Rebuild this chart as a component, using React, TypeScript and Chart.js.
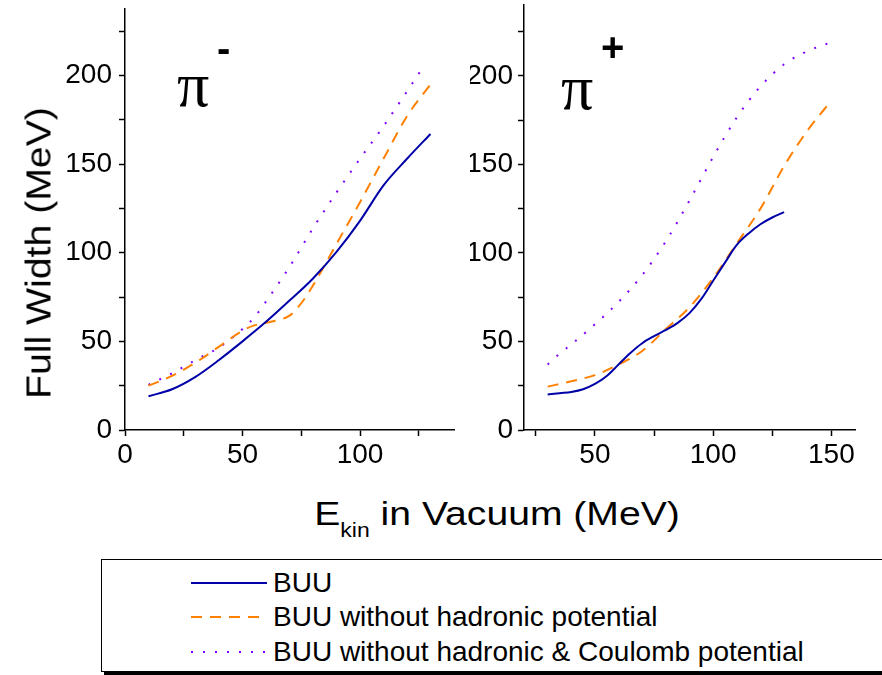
import React, { useEffect, useRef } from "react";
import { Chart, registerables } from "chart.js";
Chart.register(...registerables);

// ---------- data: pi minus panel ----------
const xMinusBUU = [10, 20, 30, 40, 50, 60, 70, 80, 90, 100, 110, 120, 130];
const yMinusBUU = [19, 23, 30, 39.5, 50, 61, 73, 85.5, 100.5, 118, 138, 153, 167];
const xMinusNoHad = [10, 20, 30, 40, 50, 55, 60, 65, 70, 75, 80, 85, 90, 100, 110, 120, 130];
const yMinusNoHad = [25, 30.5, 38, 47, 56, 59, 60.5, 62, 64.5, 71.5, 81.5, 93, 105, 128.5, 153, 177, 195];
const xMinusNoHadCoul = [10, 20, 30, 40, 45, 50, 55, 60, 70, 80, 90, 100, 110, 120, 127];
const yMinusNoHadCoul = [25.5, 32, 39.5, 46.5, 51.4, 57, 63.5, 72.5, 92, 113.8, 134, 153, 171.4, 191, 205];

// ---------- data: pi plus panel ----------
const xPlusBUU = [30, 35, 40, 45, 50, 55, 60, 65, 70, 75, 80, 85, 90, 95, 100, 105, 110, 115, 120, 125, 130];
const yPlusBUU = [20, 20.8, 21.5, 23, 26, 30.5, 37, 43.5, 49, 53, 56.5, 60.5, 66, 74, 84.3, 94.5, 104.5, 111, 116.2, 120, 123];
const xPlusNoHad = [30, 40, 50, 60, 70, 80, 90, 100, 110, 120, 130, 140, 150];
const yPlusNoHad = [24.5, 27.5, 31, 37, 44.6, 57, 69.3, 85.8, 105.3, 125, 149, 169.3, 186];
const xPlusNoHadCoul = [30, 35, 40, 50, 60, 70, 80, 90, 100, 110, 120, 130, 140, 150];
const yPlusNoHadCoul = [37, 43, 48.3, 59.7, 72.3, 87.5, 106.6, 129.6, 154.2, 176.5, 194, 206.5, 214, 219];

// ---------- ticks ----------
const leftXTicks = [0, 25, 50, 75, 100, 125];
const rightXTicks = [25, 50, 75, 100, 125, 150];
const xLabeled = [0, 50, 100, 150];
const yTicks = [0, 25, 50, 75, 100, 125, 150, 175, 200, 225];
const yLabeled = [0, 50, 100, 150, 200];

const seriesNames = [
  "BUU",
  "BUU without hadronic potential",
  "BUU without hadronic & Coulomb potential",
];
const seriesColors = ["#0000a8", "#ff8000", "#8000ff"];

const FONT = "'Liberation Sans', Arial, sans-serif";

type PanelProps = {
  xs: number[][];
  ys: number[][];
  xMin: number;
  xMax: number;
  yMax: number;
  xTicks: number[];
  left: number;
  width: number;
  yAxisWidth: number;
  padRight: number;
  padTop: number;
  yLabelPad: number;
  particle: string;
  sup: string;
  piDx: number;
  piBase: number;
  supDx: number;
  supBase: number;
  supSize: number;
};

const HEIGHT = 480;
const BOTTOM = 430;

function Panel(p: PanelProps) {
  const ref = useRef<HTMLCanvasElement | null>(null);
  useEffect(() => {
    if (!ref.current) return;
    const datasets = p.xs.map((xv, i) => ({
      label: seriesNames[i],
      data: xv.map((x, j) => ({ x, y: p.ys[i][j] })),
      borderColor: seriesColors[i],
      borderWidth: 2,
      borderDash: i === 0 ? [] : i === 1 ? [11, 8] : [2, 10],
      pointRadius: 0,
      cubicInterpolationMode: "monotone" as const,
      fill: false,
    }));
    const labelPlugin = {
      id: "particleLabel",
      afterDraw(chart: any) {
        const ctx = chart.ctx;
        const a = chart.chartArea;
        ctx.save();
        ctx.fillStyle = "#000";
        ctx.textBaseline = "alphabetic";
        ctx.textAlign = "left";
        ctx.font = "64px 'Liberation Serif', 'Times New Roman', serif";
        ctx.fillText(p.particle, a.left + p.piDx, p.piBase);
        ctx.font = `bold ${p.supSize}px ${FONT}`;
        ctx.fillText(p.sup, a.left + p.supDx, p.supBase);
        ctx.restore();
      },
    };
    const noPad = (s: any) => {
      s.paddingTop = 0;
      s.paddingBottom = 0;
      s.paddingLeft = 0;
      s.paddingRight = 0;
    };
    const chart = new Chart(ref.current, {
      type: "line",
      data: { datasets },
      plugins: [labelPlugin],
      options: {
        animation: false,
        responsive: false,
        layout: { padding: { left: 0, right: p.padRight, top: p.padTop, bottom: 0 } },
        plugins: { legend: { display: false }, tooltip: { enabled: false } },
        scales: {
          x: {
            type: "linear",
            min: p.xMin,
            max: p.xMax,
            afterBuildTicks: (s: any) => {
              s.ticks = p.xTicks.map((v) => ({ value: v }));
            },
            afterFit: (s: any) => {
              s.height = HEIGHT - BOTTOM;
              noPad(s);
            },
            grid: {
              drawOnChartArea: false,
              drawTicks: true,
              tickLength: 6,
              tickColor: "#000",
              tickWidth: 1.5,
            },
            border: { color: "#000", width: 1.5 },
            ticks: {
              color: "#000",
              font: { size: 28, family: FONT },
              padding: 2,
              maxRotation: 0,
              autoSkip: false,
              callback: (v: any) => (xLabeled.includes(Number(v)) ? String(v) : ""),
            },
          },
          y: {
            type: "linear",
            min: 0,
            max: p.yMax,
            afterBuildTicks: (s: any) => {
              s.ticks = yTicks.map((v) => ({ value: v }));
            },
            afterFit: (s: any) => {
              s.width = p.yAxisWidth;
              noPad(s);
            },
            grid: {
              drawOnChartArea: false,
              drawTicks: true,
              tickLength: 6,
              tickColor: "#000",
              tickWidth: 1.5,
            },
            border: { color: "#000", width: 1.5 },
            ticks: {
              color: "#000",
              font: { size: 28, family: FONT },
              padding: p.yLabelPad,
              autoSkip: false,
              callback: (v: any) => (yLabeled.includes(Number(v)) ? String(v) : ""),
            },
          },
        },
      },
    });
    return () => chart.destroy();
  }, []);
  return (
    <canvas
      ref={ref}
      width={p.width}
      height={HEIGHT}
      style={{ position: "absolute", left: p.left, top: 0, width: p.width, height: HEIGHT }}
    />
  );
}

function LegendSample({ i }: { i: number }) {
  const dash = i === 0 ? undefined : i === 1 ? "11 8" : "2 10";
  return (
    <svg width={76} height={6} style={{ position: "absolute", left: 89, top: -3 }}>
      <line x1={0} y1={3} x2={76} y2={3} stroke={seriesColors[i]} strokeWidth={2} strokeDasharray={dash} />
    </svg>
  );
}

export default function App() {
  return (
    <div
      style={{
        position: "absolute",
        left: 0,
        top: 0,
        width: 882,
        height: 675,
        background: "#fff",
        overflow: "hidden",
        fontFamily: FONT,
      }}
    >
      <Panel
        xs={[xMinusBUU, xMinusNoHad, xMinusNoHadCoul]}
        ys={[yMinusBUU, yMinusNoHad, yMinusNoHadCoul]}
        xMin={0}
        xMax={140}
        yMax={237.5}
        xTicks={leftXTicks}
        left={0}
        width={470}
        yAxisWidth={125}
        padRight={16}
        padTop={9}
        yLabelPad={7}
        particle="π"
        sup="-"
        piDx={52}
        piBase={106}
        supDx={92}
        supBase={62}
        supSize={40}
      />
      <Panel
        xs={[xPlusBUU, xPlusNoHad, xPlusNoHadCoul]}
        ys={[yPlusBUU, yPlusNoHad, yPlusNoHadCoul]}
        xMin={20}
        xMax={160}
        yMax={240}
        xTicks={rightXTicks}
        left={470}
        width={412}
        yAxisWidth={54}
        padRight={27}
        padTop={5}
        yLabelPad={5}
        particle="π"
        sup="+"
        piDx={37}
        piBase={109}
        supDx={77}
        supBase={61}
        supSize={40}
      />
      {/* y axis title */}
      <div
        style={{
          position: "absolute",
          left: 38,
          top: 253,
          transform: "translate(-50%, -50%) rotate(-90deg) scaleX(1.12)",
          fontSize: 35,
          whiteSpace: "nowrap",
          color: "#000",
          lineHeight: 1,
        }}
      >
        Full Width (MeV)
      </div>
      {/* x axis title */}
      <div
        style={{
          position: "absolute",
          left: 497,
          top: 518,
          transform: "translate(-50%, -50%) scaleX(1.15)",
          fontSize: 34,
          whiteSpace: "nowrap",
          color: "#000",
          lineHeight: 1,
        }}
      >
        E<sub style={{ fontSize: 20, verticalAlign: "-12px" }}>kin</sub> in Vacuum (MeV)
      </div>
      {/* legend */}
      <div
        style={{
          position: "absolute",
          left: 101,
          top: 559,
          width: 820,
          height: 111,
          border: "1.5px solid #000",
          boxShadow: "3px 3px 0 #000",
          background: "#fff",
        }}
      >
        {seriesNames.map((name, i) => (
          <div
            key={name}
            style={{ position: "absolute", left: 0, top: [23, 57, 92][i], height: 0 }}
          >
            <LegendSample i={i} />
            <div
              style={{
                position: "absolute",
                left: 171,
                top: -17,
                fontSize: 28,
                lineHeight: "34px",
                whiteSpace: "nowrap",
                color: "#000",
              }}
            >
              {name}
            </div>
          </div>
        ))}
      </div>
    </div>
  );
}
